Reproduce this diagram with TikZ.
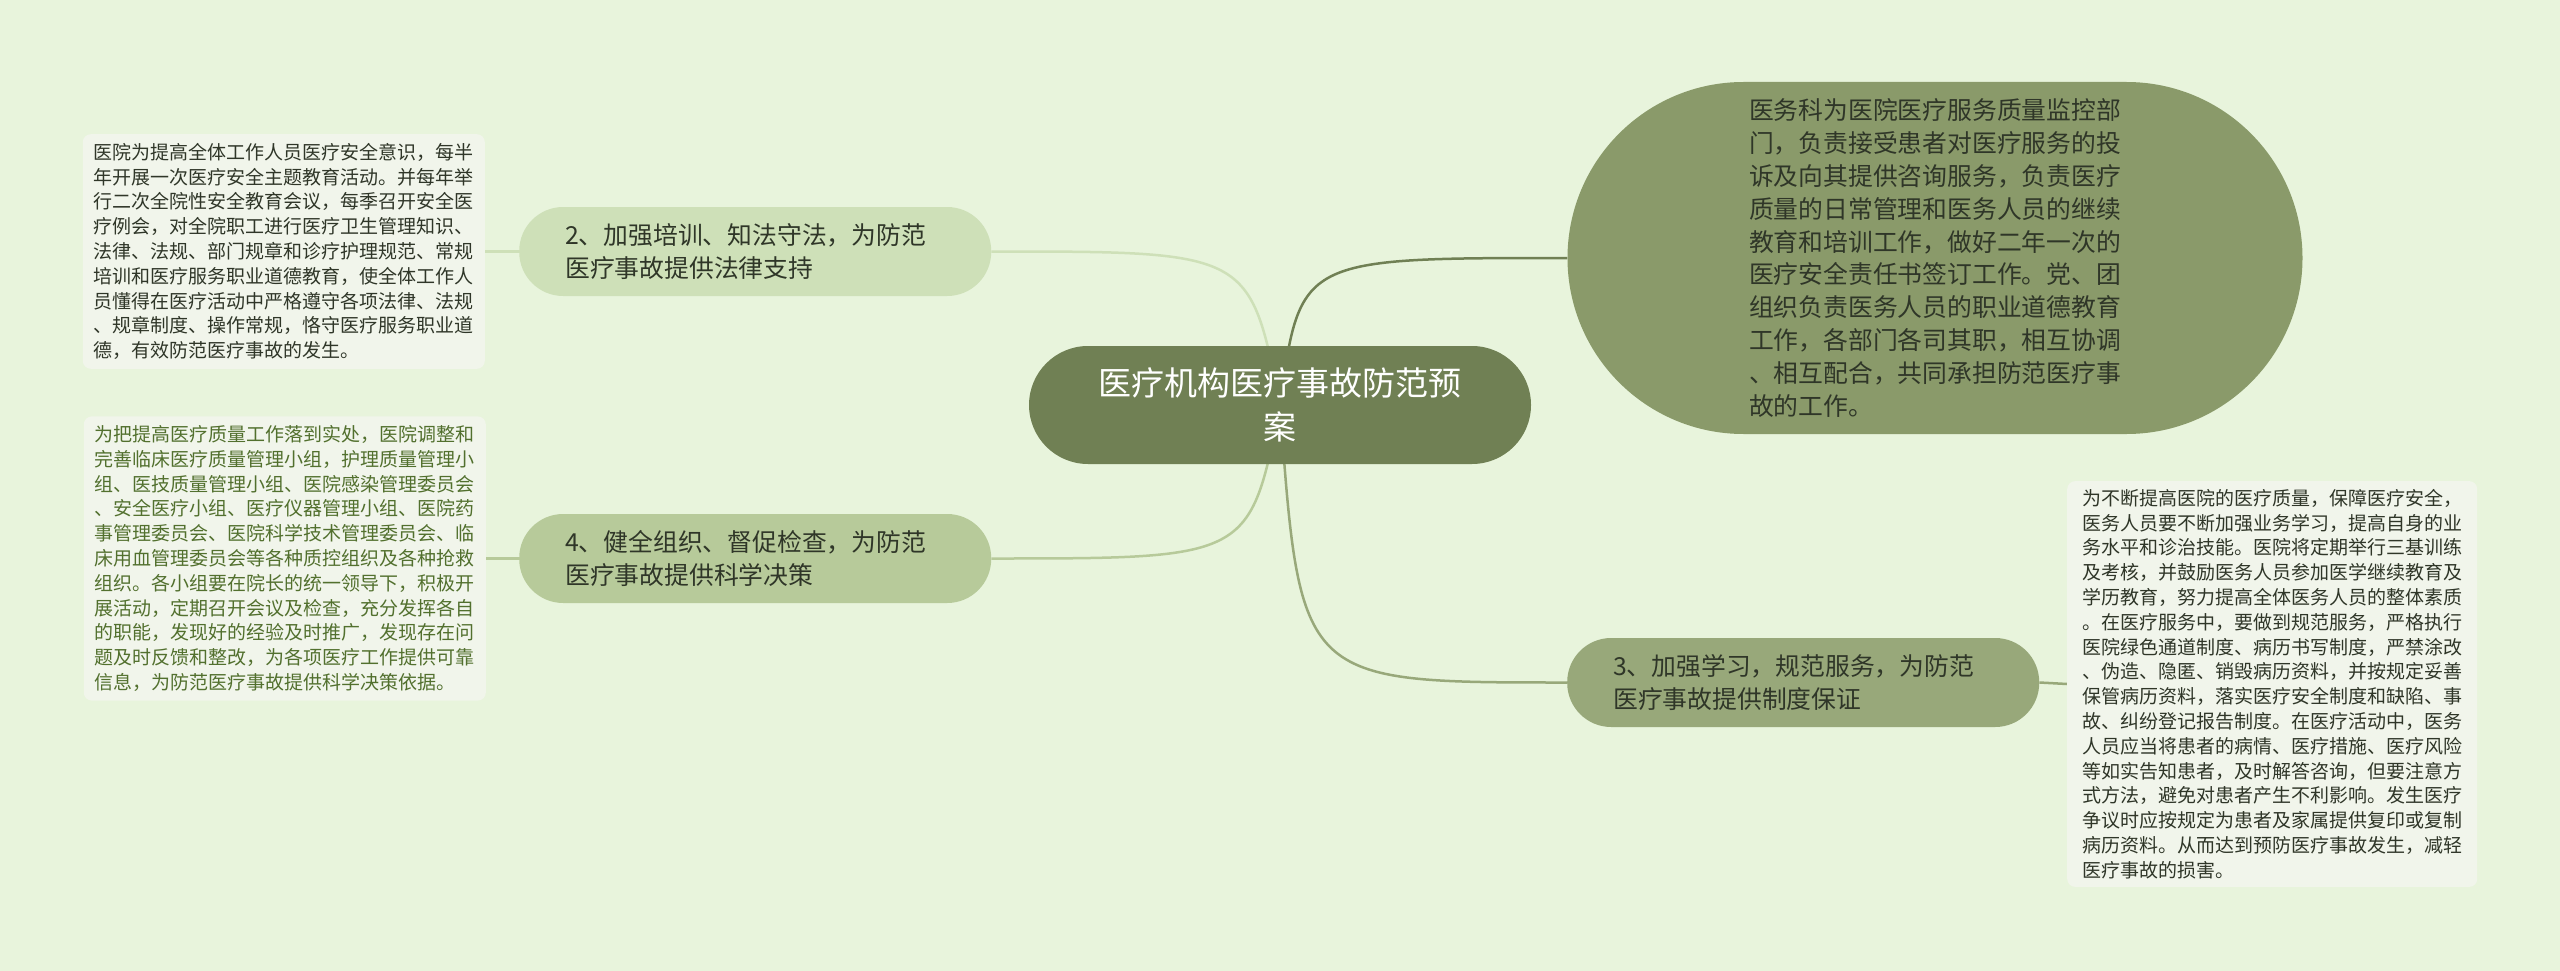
\documentclass[tikz,border=0pt]{standalone}
\usepackage{fontspec}
\setmainfont{Noto Sans CJK SC}
\usetikzlibrary{positioning}

\definecolor{bgcol}{HTML}{E8F4DC}
\definecolor{rootcol}{HTML}{708054}
\definecolor{dutycol}{HTML}{8A9A6A}
\definecolor{studycol}{HTML}{98A87A}
\definecolor{traincol}{HTML}{CEE0B8}
\definecolor{orgcol}{HTML}{B7CA9A}
\definecolor{notecol}{HTML}{F1F5EB}
\definecolor{inkcol}{HTML}{2F3628}
\definecolor{greenink}{HTML}{52702E}

\pgfdeclarelayer{edges}
\pgfsetlayers{edges,main}

\tikzset{
  root/.style={rectangle, rounded corners=59, fill=rootcol, text=white,
    minimum width=502, minimum height=118, align=center,
    font=\fontsize{33}{44}\selectfont},
  branch/.style={rectangle, rounded corners=44, minimum height=89,
    text width=380, inner xsep=46, inner ysep=4, align=left,
    text=inkcol, font=\fontsize{24.8}{33}\selectfont},
  note/.style={rectangle, rounded corners=8, fill=notecol, text width=380,
    inner xsep=11, inner ysep=9, align=left, text=inkcol,
    font=\fontsize{19}{24.8}\selectfont},
  link/.style={line width=2.5pt}
}

\begin{document}
\begin{tikzpicture}[x=1pt,y=-1pt]
    \useasboundingbox (0,0) rectangle (2560,971);

    % Central topic
    \node[root] (root) at (1280,405) {医疗机构医疗事故防范预\\案};

    % Branch 1, text inside
    \node[rectangle, rounded corners=176, fill=dutycol, text=inkcol,
          minimum width=735, minimum height=352, align=left,
          font=\fontsize{24.8}{32.8}\selectfont] (duty) at (1935,258)
        {医务科为医院医疗服务质量监控部\\
         门，负责接受患者对医疗服务的投\\
         诉及向其提供咨询服务，负责医疗\\
         质量的日常管理和医务人员的继续\\
         教育和培训工作，做好二年一次的\\
         医疗安全责任书签订工作。党、团\\
         组织负责医务人员的职业道德教育\\
         工作，各部门各司其职，相互协调\\
         、相互配合，共同承担防范医疗事\\
         故的工作。\hspace*{8pt}};

    % Branches 2, 3, 4
    \node[branch, fill=traincol, anchor=west] (train) at (519,251.5)
        {2、加强培训、知法守法，为防范\\医疗事故提供法律支持};
    \node[branch, fill=orgcol, anchor=west] (organize) at (519,558.5)
        {4、健全组织、督促检查，为防范\\医疗事故提供科学决策};
    \node[branch, fill=studycol, anchor=west] (study) at (1567,682.5)
        {3、加强学习，规范服务，为防范\\医疗事故提供制度保证};

    % Notes
    \node[note, anchor=east] (trainText) at (485,251.5)
        {医院为提高全体工作人员医疗安全意识，每半\\
         年开展一次医疗安全主题教育活动。并每年举\\
         行二次全院性安全教育会议，每季召开安全医\\
         疗例会，对全院职工进行医疗卫生管理知识、\\
         法律、法规、部门规章和诊疗护理规范、常规\\
         培训和医疗服务职业道德教育，使全体工作人\\
         员懂得在医疗活动中严格遵守各项法律、法规\\
         、规章制度、操作常规，恪守医疗服务职业道\\
         德，有效防范医疗事故的发生。};
    \node[note, text=greenink, anchor=east] (organizeText) at (486,558.5)
        {为把提高医疗质量工作落到实处，医院调整和\\
         完善临床医疗质量管理小组，护理质量管理小\\
         组、医技质量管理小组、医院感染管理委员会\\
         、安全医疗小组、医疗仪器管理小组、医院药\\
         事管理委员会、医院科学技术管理委员会、临\\
         床用血管理委员会等各种质控组织及各种抢救\\
         组织。各小组要在院长的统一领导下，积极开\\
         展活动，定期召开会议及检查，充分发挥各自\\
         的职能，发现好的经验及时推广，发现存在问\\
         题及时反馈和整改，为各项医疗工作提供可靠\\
         信息，为防范医疗事故提供科学决策依据。};
    \node[note, inner xsep=15, inner ysep=8, anchor=west] (studyText) at (2067,684)
        {为不断提高医院的医疗质量，保障医疗安全，\\
         医务人员要不断加强业务学习，提高自身的业\\
         务水平和诊治技能。医院将定期举行三基训练\\
         及考核，并鼓励医务人员参加医学继续教育及\\
         学历教育，努力提高全体医务人员的整体素质\\
         。在医疗服务中，要做到规范服务，严格执行\\
         医院绿色通道制度、病历书写制度，严禁涂改\\
         、伪造、隐匿、销毁病历资料，并按规定妥善\\
         保管病历资料，落实医疗安全制度和缺陷、事\\
         故、纠纷登记报告制度。在医疗活动中，医务\\
         人员应当将患者的病情、医疗措施、医疗风险\\
         等如实告知患者，及时解答咨询，但要注意方\\
         式方法，避免对患者产生不利影响。发生医疗\\
         争议时应按规定为患者及家属提供复印或复制\\
         病历资料。从而达到预防医疗事故发生，减轻\\
         医疗事故的损害。};

    % Connectors behind the nodes
    \begin{pgfonlayer}{edges}
        \fill[bgcol] (0,0) rectangle (2560,971);
        \draw[link, traincol] (root.center) .. controls (1250,251.5) .. (train.east);
        \draw[link, rootcol] (root.center) .. controls (1300,258) .. (duty.west);
        \draw[link, orgcol] (root.center) .. controls (1250,558.5) .. (organize.east);
        \draw[link, studycol] (root.center) .. controls (1300,682.5) .. (study.west);
        \draw[link, traincol] (train.west) -- (trainText.east);
        \draw[link, orgcol] (organize.west) -- (organizeText.east);
        \draw[link, studycol] (study.east) -- (studyText.west);
    \end{pgfonlayer}
\end{tikzpicture}
\end{document}
